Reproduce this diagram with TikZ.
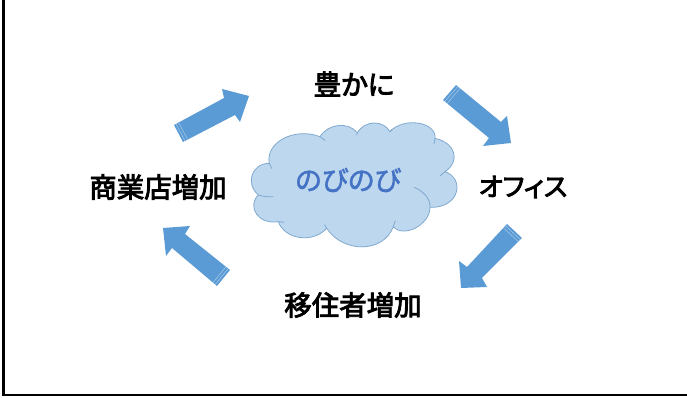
\documentclass[tikz,border=0pt]{standalone}
\usepackage{fontspec}
\usepackage{tikz}
\usetikzlibrary{calc}
\newfontfamily\jpfont[RawFeature=+palt,FakeBold=3.2]{Noto Sans CJK JP}
\newfontfamily\jpcloud[RawFeature=+palt,FakeBold=1.8]{Noto Sans CJK JP}
\definecolor{arrowblue}{HTML}{5B9BD5}
\definecolor{cloudblue}{HTML}{BDD7EE}
\definecolor{cloudedge}{HTML}{7FA9CF}
\definecolor{cloudtext}{HTML}{4472C4}
\tikzset{
  framerule/.style={line width=1.5pt,black},
  steplabel/.style={font=\jpfont\fontsize{20.6}{23}\selectfont,black,inner sep=0pt},
  cloudlabel/.style={font=\jpcloud\fontsize{20.5}{23}\selectfont,text=cloudtext,inner sep=0pt},
  cloudshape/.style={draw=cloudedge,fill=cloudblue,line width=0.6pt},
  cloudcrease/.style={draw=cloudedge,line width=0.6pt},
}
% striped block arrow: tail corners, shaft, barb, tip, barb, shaft
\newcommand{\stripedarrow}[7]{
  \fill[arrowblue] #1 -- #3 -- #4 -- #5 -- #6 -- #7 -- #2 -- cycle;
  \foreach \f in {0.04,0.09}
    \draw[white!55!arrowblue,line width=0.3pt] ($#1!\f!#3$) -- ($#2!\f!#7$);
}
\begin{document}
\begin{tikzpicture}[x=0.75pt,y=-0.75pt]
  \useasboundingbox (0,0) rectangle (687,398);
  % frame
  \draw[framerule] (3.5,0) -- (3.5,395.5) -- (687,395.5);
  % arrows
  \stripedarrow{(174,125)}{(183,142)}{(224,98)}{(222,89)}{(249,96)}{(240,122)}{(235,115)}
  \stripedarrow{(456,85)}{(443,100)}{(501,122)}{(507,116)}{(511,143)}{(483,146)}{(489,138)}
  \stripedarrow{(522,238)}{(507,224)}{(482,278)}{(487,287)}{(461,288)}{(459,261)}{(467,267)}
  \stripedarrow{(230,270)}{(217,286)}{(185,234)}{(190,226)}{(163,228)}{(166,256)}{(172,248)}
  % cloud
  \begin{scope}[shift={(240,110)},x=0.25pt,y=-0.25pt]
    \path[cloudshape] (88,160)
      .. controls (75,100) and (160,50) .. (240,80)
      .. controls (265,40) and (325,35) .. (352,68)
      .. controls (375,30) and (430,30) .. (450,65)
      .. controls (490,20) and (590,35) .. (585,85)
      .. controls (650,100) and (660,155) .. (615,185)
      .. controls (675,205) and (660,295) .. (570,292)
      .. controls (570,345) and (490,385) .. (460,350)
      .. controls (430,430) and (310,430) .. (260,355)
      .. controls (220,400) and (135,390) .. (115,335)
      .. controls (55,345) and (20,290) .. (55,255)
      .. controls (15,220) and (35,160) .. (88,160) -- cycle;
    % creases
    \path[cloudcrease] (88,160) -- (96,176);
    \path[cloudcrease] (240,80) -- (256,92);
    \path[cloudcrease] (352,68) -- (350,76);
    \path[cloudcrease] (450,65) -- (456,58);
    \path[cloudcrease] (585,85) -- (582,102);
    \path[cloudcrease] (615,185) -- (600,198);
    \path[cloudcrease] (570,292) .. controls (572,265) and (548,242) .. (522,232);
    \path[cloudcrease] (460,350) -- (466,332);
    \path[cloudcrease] (260,355) -- (254,344);
    \path[cloudcrease] (115,335) -- (133,337);
    \path[cloudcrease] (55,255) .. controls (70,260) and (85,261) .. (100,260);
  \end{scope}
  % labels
  \node[steplabel] (yutaka) at (354,84) {豊かに};
  \node[steplabel,font=\jpfont\fontsize{19.5}{22}\selectfont] (office) at (523,187) {オフィス};
  \node[steplabel] (iju) at (353,305) {移住者増加};
  \node[steplabel] (shogyo) at (158,187) {商業店増加};
  \node[cloudlabel] (nobi) at (348,180) {のびのび};
\end{tikzpicture}
\end{document}
